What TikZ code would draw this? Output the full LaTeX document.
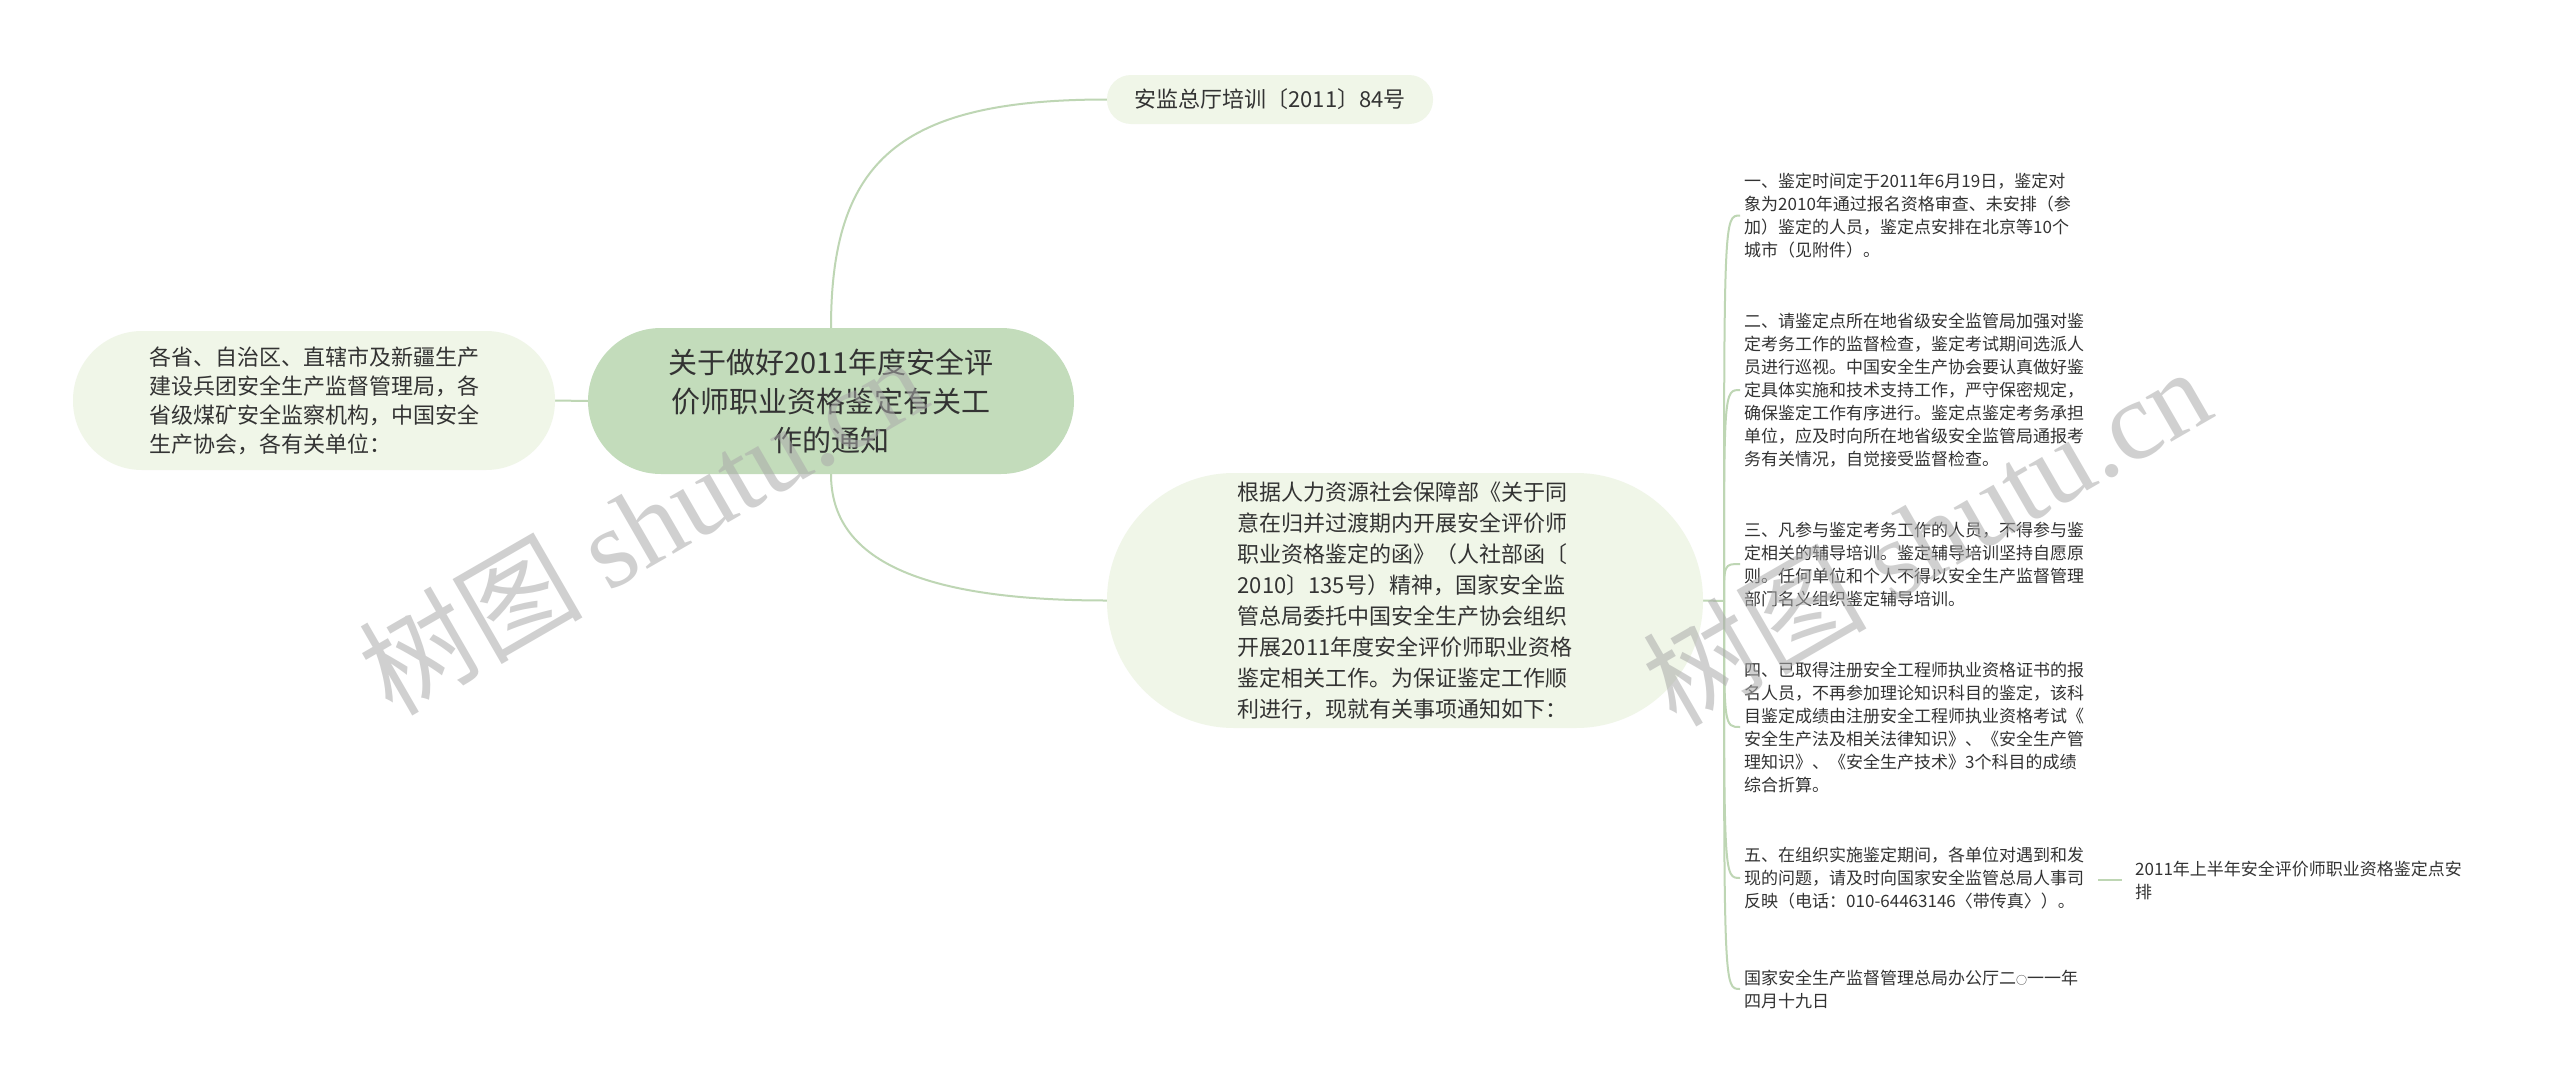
\documentclass[tikz,border=0pt]{standalone}
\usepackage{fontspec}
\setmainfont{Noto Sans CJK SC}
\newfontfamily\cjk{Noto Sans CJK SC}
\newfontfamily\wmfont{Liberation Serif}
\usetikzlibrary{backgrounds}
\definecolor{rootfill}{RGB}{195,220,187}
\definecolor{leaffill}{RGB}{240,246,232}
\definecolor{linec}{RGB}{190,214,180}
\definecolor{textc}{RGB}{51,51,51}
\definecolor{wmc}{RGB}{170,170,170}
\tikzset{
  rootbox/.style={fill=rootfill, rounded corners=73pt, text=textc, align=center, inner sep=0pt,
    font=\fontsize{29}{39}\selectfont},
  leafbox/.style={fill=leaffill, text=textc, inner sep=0pt, font=\fontsize{22}{29}\selectfont},
  itembox/.style={text=textc, align=left, anchor=west, inner xsep=4pt, inner ysep=2pt,
    font=\fontsize{17}{23}\selectfont},
  conn/.style={draw=linec, line width=2pt},
  wm/.style={text=wmc, opacity=0.55, rotate=30, font=\fontsize{112}{120}\selectfont}
}
\begin{document}
\begin{tikzpicture}[x=1pt,y=-1pt]
\useasboundingbox (0,0) rectangle (2560,1092);

\node[rootbox, minimum width=486pt, minimum height=146pt] (root) at (831,401)
  {关于做好2011年度安全评\\价师职业资格鉴定有关工\\作的通知};
\node[leafbox, rounded corners=24pt, minimum width=326pt, minimum height=49pt] (top) at (1270,99.5)
  {安监总厅培训〔2011〕84号};
\node[leafbox, rounded corners=69pt, minimum width=482pt, minimum height=139pt, align=left] (left) at (314,400.5)
  {各省、自治区、直辖市及新疆生产\\建设兵团安全生产监督管理局，各\\省级煤矿安全监察机构，中国安全\\生产协会，各有关单位：};
\node[leafbox, rounded corners=127pt, minimum width=596pt, minimum height=255pt, align=left,
  font=\fontsize{22}{31}\selectfont] (mid) at (1405,600.5)
  {根据人力资源社会保障部《关于同\\意在归并过渡期内开展安全评价师\\职业资格鉴定的函》（人社部函〔\\2010〕135号）精神，国家安全监\\管总局委托中国安全生产协会组织\\开展2011年度安全评价师职业资格\\鉴定相关工作。为保证鉴定工作顺\\利进行，现就有关事项通知如下：};

\node[itembox] (i1) at (1740,215.5)
  {一、鉴定时间定于2011年6月19日，鉴定对\\象为2010年通过报名资格审查、未安排（参\\加）鉴定的人员，鉴定点安排在北京等10个\\城市（见附件）。};
\node[itembox] (i2) at (1740,390)
  {二、请鉴定点所在地省级安全监管局加强对鉴\\定考务工作的监督检查，鉴定考试期间选派人\\员进行巡视。中国安全生产协会要认真做好鉴\\定具体实施和技术支持工作，严守保密规定，\\确保鉴定工作有序进行。鉴定点鉴定考务承担\\单位，应及时向所在地省级安全监管局通报考\\务有关情况，自觉接受监督检查。};
\node[itembox] (i3) at (1740,564)
  {三、凡参与鉴定考务工作的人员，不得参与鉴\\定相关的辅导培训。鉴定辅导培训坚持自愿原\\则。任何单位和个人不得以安全生产监督管理\\部门名义组织鉴定辅导培训。};
\node[itembox] (i4) at (1740,727)
  {四、已取得注册安全工程师执业资格证书的报\\名人员，不再参加理论知识科目的鉴定，该科\\目鉴定成绩由注册安全工程师执业资格考试《\\安全生产法及相关法律知识》、《安全生产管\\理知识》、《安全生产技术》3个科目的成绩\\综合折算。};
\node[itembox] (i5) at (1740,878)
  {五、在组织实施鉴定期间，各单位对遇到和发\\现的问题，请及时向国家安全监管总局人事司\\反映（电话：010-64463146〈带传真〉）。};
\node[itembox] (i6) at (1740,989)
  {国家安全生产监督管理总局办公厅二{\fontsize{11}{23}\selectfont ○}一一年\\四月十九日};
\node[itembox] (c5) at (2131,880)
  {2011年上半年安全评价师职业资格鉴定点安\\排};

\coordinate (sp) at (1724,601);
\begin{pgfonlayer}{background}
\fill[white] (0,0) rectangle (2560,1092);
\draw[conn] (root.west) -- (left.east);
\draw[conn] (root.north) .. controls (831,160) and (900,99.5) .. (top.west);
\draw[conn] (root.south) .. controls (831,560) and (920,600.5) .. (mid.west);
\draw[conn] (mid.east) -- (sp);
\foreach \n in {i1,i2,i3,i4,i5,i6}{
  \draw[conn] (sp) .. controls (sp |- \n.west) .. (\n.west);
}
\draw[conn, shorten <=10pt, shorten >=9pt] (i5.east |- c5.west) -- (c5.west);
\end{pgfonlayer}

% watermarks
\node[wm] (wm1) at (642,524) {\cjk 树图 \wmfont shutu.cn};
\node[wm] (wm2) at (1926,535) {\cjk 树图 \wmfont shutu.cn};
\end{tikzpicture}
\end{document}
